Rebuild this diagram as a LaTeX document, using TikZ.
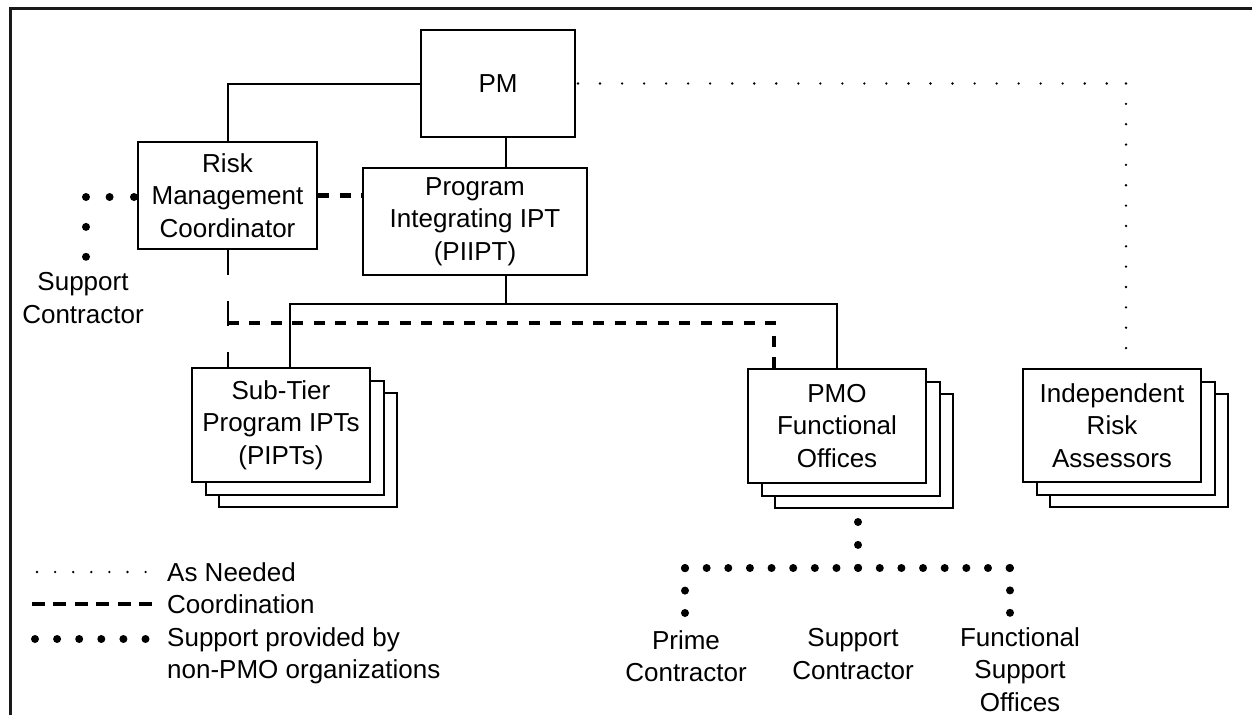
\documentclass[tikz,border=0pt]{standalone}
\usepackage{fontspec}
\setmainfont{Liberation Sans}
\usetikzlibrary{shadows}
\begin{document}
\begin{tikzpicture}[x=1pt,y=-1pt,
  txt/.style={font=\fontsize{26}{32.5}\selectfont, text=black, inner sep=0pt},
  box/.style={txt, draw=black, line width=2pt, fill=white, align=center},
  stack/.style={box,
    copy shadow={shadow xshift=27pt, shadow yshift=-24.5pt, draw=black, fill=white, line width=2pt},
    copy shadow={shadow xshift=14pt, shadow yshift=-12.5pt, draw=black, fill=white, line width=2pt}},
  solid line/.style={draw=black, line width=2pt},
  coordline/.style={draw=black, line width=4.5pt, dash pattern=on 11pt off 10.5pt},
  longdash/.style={draw=black, line width=2pt, dash pattern=on 25pt off 26pt},
  asneeded/.style={draw=black, line width=2.6pt, line cap=round, dash pattern=on 0pt off 21.7pt},
  supportdots/.style={draw=black, line width=8pt, line cap=round},
  framed/.style={draw=black!90, line width=3pt}
]
\useasboundingbox (0,0) rectangle (1252,715);
\draw[framed] (10,715) -- (10,8) -- (1252,8);

% boxes
\node[box, minimum width=154pt, minimum height=107pt] (pm) at (498,83.5) {PM};
\node[box, minimum width=179pt, minimum height=107pt] (rmc) at (227.5,195.5) {Risk\\Management\\Coordinator};
\node[box, minimum width=224pt, minimum height=107pt] (piipt) at (475,221.5) {Program\\Integrating IPT\\(PIIPT)};
\node[stack, minimum width=178pt, minimum height=114pt] (sub) at (281,425) {Sub-Tier\\Program IPTs\\(PIPTs)};
\node[stack, minimum width=178pt, minimum height=114pt] (pmo) at (837,426) {PMO\\Functional\\Offices};
\node[stack, minimum width=178pt, minimum height=113pt] (ira) at (1112,425.5) {Independent\\Risk\\Assessors};

% labels
\node[txt, align=center] (sc) at (83,298) {Support\\Contractor};
\node[txt, align=center] (prime) at (686,656) {Prime\\Contractor};
\node[txt, align=center] (supc) at (853,654) {Support\\Contractor};
\node[txt, align=center] (fso) at (1020,669.5) {Functional\\Support\\Offices};

% coordinates
\coordinate (spine) at (506,290);
\coordinate (busL) at (290,304);
\coordinate (busR) at (837,304);
\coordinate (c1) at (227.5,323);
\coordinate (c2) at (774,323);
\coordinate (an) at (1126,83.5);
\coordinate (sc1) at (86,197);
\coordinate (sc2) at (86,257);
\coordinate (pd0) at (858,522);
\coordinate (pj) at (858,568);
\coordinate (pl) at (685,568);
\coordinate (pr) at (1010,568);
\coordinate (pl2) at (685,613);
\coordinate (pr2) at (1010,613);

% solid connectors
\draw[solid line] (pm.west) -| (rmc.north);
\draw[solid line] (spine |- pm.south) -- (spine |- piipt.north);
\draw[solid line] (spine |- piipt.south) -- (spine |- busL);
\draw[solid line] (busL |- sub.north) |- (busR) -- (busR |- pmo.north);

% coordination
\draw[coordline] (rmc.east) -- (rmc.east -| piipt.west);
\draw[coordline] (c1) -- (c2) -- (c2 |- pmo.north);
\draw[longdash] (rmc.south) -- (rmc.south |- sub.north);

% as needed
\draw[asneeded, dash pattern=on 0pt off 22.03pt] ([xshift=2pt]pm.east) -- (an);
\draw[asneeded, dash pattern=on 0pt off 20.35pt] (an) -- (an |- ira.north);

% support provided
\draw[supportdots, dash pattern=on 0pt off 24.4pt] ([xshift=-3pt]rmc.west |- sc1) -- (sc1);
\draw[supportdots, dash pattern=on 0pt off 29.9pt] (sc1) -- (sc2);
\draw[supportdots, dash pattern=on 0pt off 22.9pt] (pd0) -- (pj);
\draw[supportdots, dash pattern=on 0pt off 21.64pt] (pl) -- (pr);
\draw[supportdots, dash pattern=on 0pt off 22.4pt] (pl2) -- (pl);
\draw[supportdots, dash pattern=on 0pt off 22.4pt] (pr) -- (pr2);

% legend
\coordinate (l1a) at (37,572);  \coordinate (l1b) at (146,572);
\coordinate (l2a) at (32,604);  \coordinate (l2b) at (152,604);
\coordinate (l3a) at (35,639);  \coordinate (l3b) at (146,639);
\draw[asneeded, dash pattern=on 0pt off 18.1pt] (l1a) -- (l1b);
\draw[coordline, dash pattern=on 13pt off 8.4pt] (l2a) -- (l2b);
\draw[supportdots, dash pattern=on 0pt off 22.1pt] (l3a) -- (l3b);
\node[txt, anchor=west] (lg1) at (167,572) {As Needed};
\node[txt, anchor=west] (lg2) at (167,604) {Coordination};
\node[txt, anchor=west, align=left] (lg3) at (167,656) {Support provided by\\non-PMO organizations};
\end{tikzpicture}
\end{document}
